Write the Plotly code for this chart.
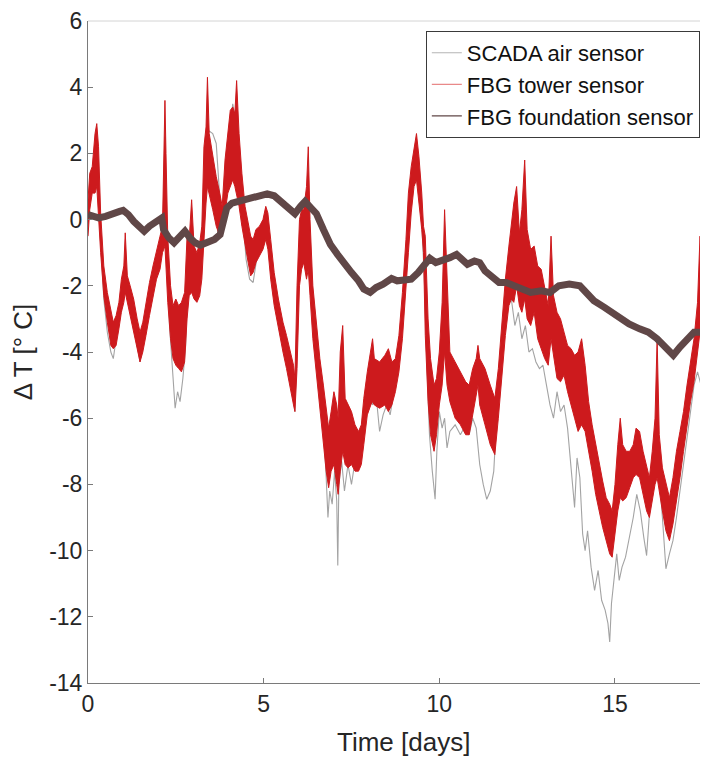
import plotly.graph_objects as go

# ---------------- data ----------------
# FBG tower sensor: noisy band, given as lower / upper envelope per day
tower_days = [0.00,0.05,0.12,0.20,0.25,0.30,0.36,0.45,0.55,0.65,0.72,0.80,0.88,0.95,1.02,1.06,1.12,1.20,1.30,1.40,
              1.48,1.56,1.65,1.75,1.85,1.95,2.05,2.12,2.19,2.22,2.27,2.35,2.42,2.50,2.58,2.66,2.75,2.82,2.88,2.95,
              3.02,3.10,3.18,3.24,3.30,3.36,3.40,3.45,3.55,3.65,3.75,3.82,3.90,3.98,4.05,4.12,4.18,4.23,4.30,4.38,
              4.47,4.56,4.63,4.70,4.78,4.88,4.98,5.06,5.12,5.20,5.30,5.42,5.55,5.65,5.75,5.85,5.89,5.95,6.02,6.08,
              6.14,6.22,6.27,6.32,6.40,6.50,6.60,6.70,6.78,6.85,6.92,7.00,7.08,7.12,7.18,7.25,7.32,7.40,7.50,7.60,
              7.70,7.78,7.85,7.95,8.05,8.10,8.15,8.30,8.45,8.55,8.65,8.75,8.85,8.95,9.05,9.12,9.20,9.28,9.35,9.42,
              9.50,9.55,9.60,9.68,9.75,9.85,9.92,10.00,10.08,10.15,10.22,10.30,10.45,10.60,10.75,10.85,10.95,11.05,11.10,11.15,
              11.30,11.45,11.58,11.68,11.78,11.88,11.98,12.05,12.12,12.20,12.28,12.35,12.43,12.50,12.60,12.70,12.80,12.90,13.00,13.10,
              13.18,13.25,13.35,13.45,13.55,13.65,13.75,13.85,13.95,14.05,14.15,14.25,14.35,14.45,14.55,14.65,14.75,14.85,14.92,15.00,
              15.08,15.15,15.22,15.32,15.42,15.52,15.60,15.70,15.80,15.90,15.98,16.06,16.14,16.20,16.26,16.35,16.45,16.55,16.65,16.75,
              16.85,16.95,17.05,17.15,17.25,17.35,17.42,17.50,17.58,17.65]
tower_lo = [-0.5,0.3,0.8,0.8,1.0,0.0,-1.0,-2.3,-3.1,-3.8,-3.9,-3.8,-3.3,-2.8,-2.5,-2.2,-2.4,-2.8,-3.3,-3.9,
            -4.3,-4.0,-3.5,-2.9,-2.3,-1.8,-1.5,-1.0,-0.8,-1.5,-2.5,-3.6,-4.2,-4.4,-4.5,-4.6,-4.3,-3.0,-2.3,-2.2,
            -2.4,-2.5,-2.3,-1.8,-0.5,0.5,1.0,0.8,0.3,-0.2,-0.5,-0.5,0.2,0.8,1.0,1.2,1.0,0.8,0.4,-0.2,
            -0.8,-1.3,-1.7,-1.6,-1.3,-1.1,-0.9,-0.6,-0.9,-1.8,-2.6,-3.3,-4.0,-4.5,-5.0,-5.6,-5.8,-4.5,-2.0,-1.5,
            -1.3,-1.8,-1.5,-2.3,-3.6,-4.8,-5.8,-6.8,-7.6,-8.1,-7.6,-7.4,-8.0,-8.3,-7.6,-7.0,-7.4,-7.5,-7.4,-7.6,
            -7.6,-7.4,-6.8,-5.9,-5.6,-5.5,-5.6,-5.7,-5.6,-5.8,-5.6,-5.2,-4.6,-3.6,-2.2,-1.0,0.2,1.0,1.2,0.6,
            -0.3,-1.0,-3.5,-5.5,-6.5,-7.0,-6.5,-5.6,-5.0,-4.0,-5.0,-5.5,-6.0,-6.2,-6.5,-6.5,-5.8,-5.3,-5.0,-5.6,
            -6.2,-6.8,-7.1,-6.0,-4.8,-3.5,-2.6,-2.4,-2.5,-2.0,-2.6,-2.8,-2.4,-3.0,-3.2,-2.8,-3.6,-3.9,-4.2,-4.4,
            -3.6,-4.0,-4.8,-4.9,-4.7,-5.2,-5.6,-6.0,-6.4,-6.2,-6.4,-7.0,-7.6,-8.3,-8.8,-9.3,-9.7,-10.1,-10.2,-9.6,
            -8.8,-8.4,-8.5,-8.4,-8.1,-7.8,-7.7,-7.8,-8.3,-8.8,-9.0,-8.5,-8.0,-7.8,-8.2,-8.8,-9.4,-9.7,-9.2,-8.5,
            -7.8,-7.0,-6.2,-5.5,-4.9,-4.0,-3.4,-3.3,-3.0,-3.0]
tower_hi = [0.6,1.4,1.6,2.6,2.9,2.2,0.2,-1.4,-2.2,-2.8,-3.1,-2.9,-2.5,-1.8,-1.4,-0.4,-1.7,-2.0,-2.4,-3.0,
            -3.4,-3.1,-2.5,-1.9,-1.4,-0.9,-0.5,-0.2,3.6,2.0,-0.5,-2.0,-2.6,-2.4,-2.6,-2.5,-2.2,-0.5,-0.6,0.6,
            -0.8,-1.0,-0.7,-0.2,2.2,2.8,4.3,2.6,1.9,1.3,0.8,0.4,1.8,2.6,3.3,3.4,3.2,4.2,2.6,1.4,
            0.4,-0.1,-0.5,-0.6,-0.3,-0.2,0.0,0.4,0.2,-0.6,-1.6,-2.4,-3.1,-3.5,-4.0,-4.4,-4.8,-2.0,0.0,0.3,
            0.3,1.0,2.2,0.0,-2.0,-3.2,-4.2,-5.0,-5.8,-6.3,-5.8,-5.2,-5.6,-6.0,-4.0,-3.2,-5.4,-5.6,-5.8,-6.2,
            -6.4,-6.2,-5.4,-4.6,-4.0,-3.6,-4.2,-4.3,-4.1,-3.9,-4.3,-4.2,-3.5,-2.2,-0.6,0.8,1.6,2.2,2.6,1.9,
            0.8,-0.2,-0.5,-3.0,-4.2,-5.0,-4.8,-4.0,-2.5,0.3,-2.0,-4.0,-4.3,-4.6,-4.9,-5.0,-4.5,-4.2,-3.8,-4.2,
            -4.5,-5.0,-5.4,-4.5,-3.0,-1.8,-0.8,-0.2,0.5,1.0,-0.4,0.3,1.8,-0.3,-0.9,-0.8,-1.4,-1.5,-2.0,-2.6,
            -0.5,-2.3,-2.8,-3.0,-3.4,-3.8,-3.9,-4.1,-4.0,-3.6,-4.4,-5.5,-6.2,-6.8,-7.4,-7.9,-8.4,-8.6,-8.8,-8.0,
            -6.8,-6.0,-6.8,-7.0,-7.0,-6.8,-6.3,-6.4,-7.0,-7.5,-7.8,-7.0,-6.0,-3.6,-6.5,-7.5,-8.0,-8.4,-7.8,-7.0,
            -6.4,-5.8,-5.0,-4.3,-3.6,-2.5,-0.5,-1.8,-1.6,-1.3]

# SCADA air sensor
scada_days = [0.00,0.08,0.15,0.22,0.28,0.35,0.45,0.55,0.65,0.72,0.80,0.90,1.00,1.05,1.12,1.25,1.40,1.48,1.60,1.80,
              2.00,2.12,2.19,2.24,2.32,2.42,2.48,2.55,2.62,2.70,2.78,2.85,2.92,3.00,3.10,3.20,3.28,3.35,3.42,3.55,
              3.65,3.72,3.78,3.85,3.95,4.05,4.12,4.20,4.30,4.40,4.50,4.60,4.70,4.80,4.95,5.06,5.15,5.30,5.45,5.60,
              5.75,5.89,5.95,6.02,6.10,6.20,6.28,6.35,6.45,6.60,6.70,6.78,6.83,6.88,6.95,7.02,7.08,7.11,7.14,7.22,
              7.30,7.40,7.50,7.60,7.70,7.80,7.90,8.00,8.10,8.20,8.30,8.40,8.50,8.60,8.70,8.80,8.90,9.00,9.10,9.20,
              9.30,9.38,9.45,9.52,9.58,9.65,9.72,9.80,9.88,9.93,10.00,10.08,10.15,10.22,10.30,10.45,10.60,10.75,10.85,10.95,
              11.05,11.15,11.25,11.35,11.45,11.55,11.65,11.75,11.85,11.95,12.05,12.15,12.25,12.35,12.45,12.55,12.65,12.75,12.85,12.95,
              13.05,13.15,13.25,13.35,13.45,13.55,13.65,13.75,13.85,13.92,14.00,14.08,14.15,14.22,14.32,14.42,14.52,14.62,14.72,14.80,
              14.85,14.90,14.98,15.05,15.12,15.20,15.30,15.42,15.52,15.62,15.72,15.82,15.90,15.98,16.08,16.18,16.25,16.35,16.45,16.55,
              16.65,16.75,16.85,16.95,17.05,17.15,17.25,17.35,17.45,17.55,17.65]
scada_vals = [0.0,0.8,1.2,2.2,1.5,-0.5,-2.4,-3.4,-4.0,-4.2,-3.6,-3.0,-2.4,-1.9,-2.3,-2.9,-3.8,-4.3,-3.6,-2.4,
              -1.4,-0.7,2.5,-0.5,-3.2,-5.0,-5.7,-5.2,-5.5,-4.8,-3.8,-1.6,-1.2,-2.0,-2.4,-1.4,0.5,2.0,2.7,2.6,
              2.3,1.2,0.2,0.0,1.5,2.8,3.5,3.0,1.6,0.2,-1.2,-1.8,-1.9,-1.2,-0.6,-0.2,-0.8,-2.2,-2.9,-3.7,
              -4.6,-5.8,-3.5,-1.0,-0.6,-1.0,0.5,-1.5,-3.0,-5.0,-6.2,-7.8,-9.0,-8.2,-8.6,-7.6,-8.5,-10.45,-8.0,-7.3,
              -8.2,-7.4,-8.0,-7.3,-7.0,-6.2,-5.4,-5.2,-5.6,-5.3,-6.4,-5.9,-5.6,-5.9,-5.3,-4.6,-3.8,-2.4,-0.6,1.0,
              2.2,1.8,1.2,-0.5,-2.0,-4.5,-6.5,-7.6,-8.45,-7.0,-5.8,-6.3,-6.0,-6.9,-6.4,-6.2,-6.5,-6.2,-6.5,-6.0,
              -6.3,-7.4,-8.0,-8.45,-8.2,-7.6,-5.6,-4.4,-3.2,-2.0,-2.4,-3.2,-2.8,-3.6,-3.2,-4.0,-3.9,-4.3,-4.5,-4.4,
              -5.0,-5.6,-6.0,-5.2,-5.8,-5.6,-6.3,-7.5,-8.7,-7.2,-7.8,-9.5,-10.0,-9.4,-10.5,-11.2,-10.6,-11.5,-11.8,-12.2,
              -12.76,-11.6,-10.8,-10.1,-10.9,-10.5,-10.2,-9.6,-9.0,-8.3,-8.8,-9.6,-10.15,-8.9,-7.2,-6.8,-7.6,-9.0,-10.55,-10.1,
              -9.7,-9.0,-8.2,-7.3,-6.5,-5.7,-5.0,-4.6,-5.0,-5.8,-5.7]

# FBG foundation sensor
found_days = [0.00,0.10,0.30,0.50,0.70,0.90,1.00,1.15,1.30,1.45,1.60,1.75,1.90,2.10,2.15,2.30,2.45,2.60,2.76,2.90,
              3.05,3.20,3.40,3.60,3.76,3.85,3.95,4.10,4.30,4.50,4.70,4.90,5.10,5.30,5.50,5.70,5.89,6.05,6.18,6.35,
              6.50,6.70,6.90,7.10,7.30,7.50,7.70,7.85,8.03,8.20,8.40,8.64,8.80,9.00,9.20,9.40,9.60,9.73,9.90,10.10,
              10.30,10.49,10.65,10.80,11.00,11.15,11.30,11.50,11.70,11.90,12.10,12.30,12.60,12.90,13.15,13.40,13.70,14.00,14.20,14.40,
              14.70,15.05,15.40,15.70,15.95,16.20,16.45,16.66,16.85,17.05,17.25,17.45,17.65]
found_vals = [0.15,0.10,0.05,0.10,0.20,0.25,0.28,0.15,-0.05,-0.20,-0.35,-0.20,-0.10,0.05,-0.30,-0.55,-0.70,-0.55,-0.35,-0.55,
              -0.70,-0.77,-0.70,-0.60,-0.45,0.00,0.35,0.50,0.55,0.63,0.70,0.75,0.78,0.72,0.55,0.35,0.18,0.40,0.55,0.35,
              0.18,-0.30,-0.75,-1.05,-1.35,-1.60,-1.85,-2.10,-2.20,-2.05,-1.95,-1.78,-1.85,-1.85,-1.80,-1.60,-1.35,-1.17,-1.30,-1.25,
              -1.15,-1.05,-1.20,-1.35,-1.25,-1.30,-1.55,-1.75,-1.90,-1.90,-2.00,-2.10,-2.20,-2.15,-2.20,-2.00,-1.95,-2.00,-2.20,-2.45,
              -2.65,-2.90,-3.15,-3.30,-3.40,-3.60,-3.90,-4.10,-3.85,-3.65,-3.40,-3.40,-3.30]

series_names = ["SCADA air sensor", "FBG tower sensor", "FBG foundation sensor"]
x_tick_vals = [0, 5, 10, 15]
x_tick_text = ["0", "5", "10", "15"]
y_tick_vals = [6, 4, 2, 0, -2, -4, -6, -8, -10, -12, -14]
y_tick_text = ["6", "4", "2", "0", "-2", "-4", "-6", "-8", "-10", "-12", "-14"]

# ---------------- styling ----------------
C_GRAY = "#a3a3a3"
C_RED = "#cd1a1d"
C_BROWN = "#604747"
FONT = "Liberation Sans, Arial, Helvetica, sans-serif"
AX = "#7a7a7a"
TXT = "#262626"

fig = go.Figure()

# SCADA (bottom layer)
fig.add_trace(go.Scatter(x=scada_days, y=scada_vals, mode="lines",
                         line=dict(color=C_GRAY, width=1.1), showlegend=False, hoverinfo="skip"))
# FBG tower as a filled noise band
fig.add_trace(go.Scatter(x=tower_days + tower_days[::-1], y=tower_hi + tower_lo[::-1],
                         mode="lines", fill="toself", fillcolor=C_RED,
                         line=dict(color=C_RED, width=1), showlegend=False, hoverinfo="skip"))
# Foundation (top layer)
fig.add_trace(go.Scatter(x=found_days, y=found_vals, mode="lines",
                         line=dict(color=C_BROWN, width=7), showlegend=False, hoverinfo="skip"))

# legend-only entries
legend_colors = ["#b5b5b5", "rgba(215,40,40,0.55)", C_BROWN]
for name, col in zip(series_names, legend_colors):
    fig.add_trace(go.Scatter(x=[None], y=[None], mode="lines", name=name,
                             line=dict(color=col, width=1.2)))

# page body has an 8px margin: the figure sits at (8, 8)
fig.update_layout(
    width=692, height=750,
    margin=dict(l=80, r=0, t=10, b=75),
    paper_bgcolor="white", plot_bgcolor="white",
    font=dict(family=FONT, color=TXT, size=23),
    showlegend=True,
    legend=dict(x=0.552, y=0.985, xanchor="left", yanchor="top",
                bgcolor="white", bordercolor="#3a3a3a", borderwidth=1,
                font=dict(family=FONT, size=22, color="#111111"),
                tracegroupgap=0, itemwidth=30),
    xaxis=dict(range=[0, 17.42], tickvals=x_tick_vals, ticktext=x_tick_text,
               ticks="inside", ticklen=5, tickcolor=AX, showline=True, linecolor=AX, linewidth=1,
               showgrid=False, zeroline=False, tickfont=dict(size=23, color=TXT),
               ticklabeloverflow="allow"),
    yaxis=dict(range=[-14, 6], tickvals=y_tick_vals, ticktext=y_tick_text,
               ticks="inside", ticklen=5, tickcolor=AX, showline=True, linecolor=AX, linewidth=1,
               showgrid=False, zeroline=False, tickfont=dict(size=23, color=TXT),
               ticklabeloverflow="allow",
               title=dict(text="Δ T [° C]", font=dict(size=26, color=TXT), standoff=12)),
    shapes=[dict(type="line", xref="paper", yref="paper", x0=0, x1=1, y0=1, y1=1,
                 line=dict(color="#d4d4d4", width=1))],
    annotations=[dict(text="Time [days]", xref="paper", yref="paper", x=0.515, y=-0.089,
                      xanchor="center", yanchor="middle", showarrow=False,
                      font=dict(size=26, color=TXT, family=FONT))],
)

fig.write_html("out.html")
